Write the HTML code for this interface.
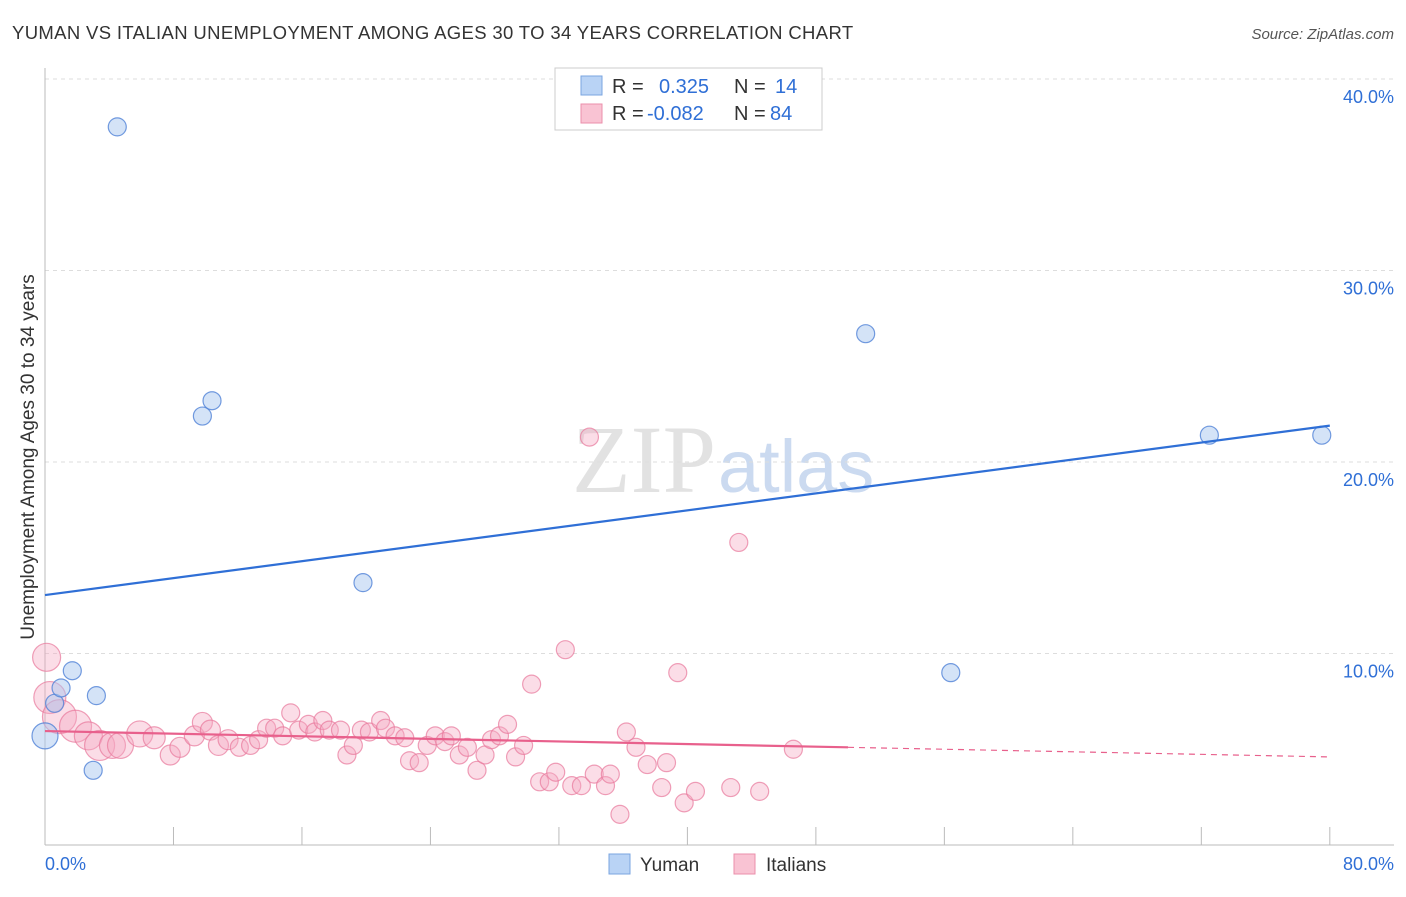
<!DOCTYPE html>
<html><head><meta charset="utf-8"><style>
body{margin:0;background:#fff;font-family:"Liberation Sans",sans-serif}
svg text{font-family:"Liberation Sans",sans-serif}
</style></head><body>
<svg id="chart" width="1406" height="892" xmlns="http://www.w3.org/2000/svg">
<text x="12" y="39" font-size="18.5" fill="#333" letter-spacing="0.35">YUMAN VS ITALIAN UNEMPLOYMENT AMONG AGES 30 TO 34 YEARS CORRELATION CHART</text>
<text x="1394" y="39" font-size="15" fill="#555" font-style="italic" text-anchor="end">Source: ZipAtlas.com</text>
<text x="716" y="492" font-size="96" fill="#e2e2e2" text-anchor="end" style="font-family:'Liberation Serif',serif">ZIP</text>
<text x="718" y="492" font-size="74" fill="#cbdaf0">atlas</text>
<g id="grid"></g>
<g id="axes"></g>
<g id="pts"></g>
<g id="lines"></g>
<text transform="translate(34,457) rotate(-90)" font-size="19" fill="#333" text-anchor="middle">Unemployment Among Ages 30 to 34 years</text>
<g>
<rect x="555" y="68" width="267" height="62" fill="#fff" stroke="#ccc"/>
<rect x="581" y="76" width="21" height="19" fill="#b9d3f5" stroke="#7aa5e0"/>
<rect x="581" y="104" width="21" height="19" fill="#f9c3d3" stroke="#eb8fab"/>
<text x="612" y="93" font-size="20" fill="#333">R =</text>
<text x="659" y="93" font-size="20" fill="#2f6fd6">0.325</text>
<text x="734" y="93" font-size="20" fill="#333">N =</text>
<text x="775" y="93" font-size="20" fill="#2f6fd6">14</text>
<text x="612" y="120" font-size="20" fill="#333">R =</text>
<text x="647" y="120" font-size="20" fill="#2f6fd6">-0.082</text>
<text x="734" y="120" font-size="20" fill="#333">N =</text>
<text x="770" y="120" font-size="20" fill="#2f6fd6">84</text>
</g>
<g>
<rect x="609" y="854" width="21" height="20" fill="#b9d3f5" stroke="#7aa5e0"/>
<text x="640" y="871" font-size="19" fill="#333">Yuman</text>
<rect x="734" y="854" width="21" height="20" fill="#f9c3d3" stroke="#eb8fab"/>
<text x="766" y="871" font-size="19" fill="#333">Italians</text>
</g>
</svg>
<script>
const yTicks=[10,20,30,40];
const yTickLabels=["10.0%","20.0%","30.0%","40.0%"];
const xTicks=[0,8,16,24,32,40,48,56,64,72,80];
const xEndLabels=["0.0%","80.0%"];
const yumanX=[0,0.6,1.0,1.7,3.2,3.0,4.5,9.8,10.4,19.8,51.1,56.4,72.5,79.5];
const yumanY=[5.7,7.4,8.2,9.1,7.8,3.9,37.5,22.4,23.2,13.7,26.7,9.0,21.4,21.4];
const yumanR=[13,9,9,9,9,9,9,9,9,9,9,9,9,9];
const italX=[0.1,0.3,0.9,1.9,2.7,3.4,4.2,4.7,5.9,6.8,7.8,8.4,9.3,9.8,10.3,10.8,11.4,12.1,12.8,13.3,13.8,14.3,14.8,15.3,15.8,16.4,16.8,17.3,17.7,18.4,18.8,19.2,19.7,20.2,20.9,21.2,21.8,22.4,22.7,23.3,23.8,24.3,24.9,25.3,25.8,26.3,26.9,27.4,27.8,28.3,28.8,29.3,29.8,30.3,30.8,31.4,31.8,32.4,32.8,33.4,34.2,34.9,35.2,35.8,36.2,36.8,37.5,38.4,38.7,39.4,39.8,40.5,42.7,43.2,44.5,46.6,33.9];
const italY=[9.8,7.7,6.7,6.2,5.7,5.2,5.2,5.2,5.8,5.6,4.7,5.1,5.7,6.4,6.0,5.2,5.5,5.1,5.2,5.5,6.1,6.1,5.7,6.9,6.0,6.3,5.9,6.5,6.0,6.0,4.7,5.2,6.0,5.9,6.5,6.1,5.7,5.6,4.4,4.3,5.2,5.7,5.4,5.7,4.7,5.1,3.9,4.7,5.5,5.7,6.3,4.6,5.2,8.4,3.3,3.3,3.8,10.2,3.1,3.1,3.7,3.1,3.7,1.6,5.9,5.1,4.2,3.0,4.3,9.0,2.2,2.8,3.0,15.8,2.8,5.0,21.3];
const italR=[14,16,17,16,14,15,13,13,13,11,10,10,10,10,10,10,10];
const yumanLine=[[0,13.05],[80,21.9]];
const italLine=[[0,5.95],[50,5.1],[80,4.6]];
const NS="http://www.w3.org/2000/svg";
const X=v=>45+v*16.06, Y=v=>845-v*19.15;
function mk(tag,attrs,parent){const e=document.createElementNS(NS,tag);for(const k in attrs)e.setAttribute(k,attrs[k]);parent.appendChild(e);return e;}
const grid=document.getElementById('grid'),axes=document.getElementById('axes'),pts=document.getElementById('pts'),lines=document.getElementById('lines');
yTicks.forEach((t,i)=>{const l=mk('line',{x1:45,x2:1394,y1:Y(t),y2:Y(t),stroke:'#ddd','stroke-dasharray':'4,4'},grid);


const tx=mk('text',{x:1394,y:Y(t)+24,'font-size':18,fill:'#2f6fd6','text-anchor':'end'},grid);tx.textContent=yTickLabels[i];

});
const ya=mk('line',{x1:45,x2:45,y1:68,y2:845,stroke:'#bbb'},axes);


const xa=mk('line',{x1:45,x2:1394,y1:845,y2:845,stroke:'#bbb'},axes);


xTicks.forEach(t=>{const l=mk('line',{x1:X(t),x2:X(t),y1:827,y2:845,stroke:'#bbb'},axes);

});
const xl0=mk('text',{x:45,y:870,'font-size':18,fill:'#2f6fd6'},axes);xl0.textContent=xEndLabels[0];


const xl1=mk('text',{x:1394,y:870,'font-size':18,fill:'#2f6fd6','text-anchor':'end'},axes);xl1.textContent=xEndLabels[1];


italX.forEach((v,i)=>{const c=mk('circle',{cx:X(v),cy:Y(italY[i]),r:italR[i]||9,fill:'rgba(246,170,196,0.4)',stroke:'rgba(232,120,155,0.7)','stroke-width':1.2},pts);

});
yumanX.forEach((v,i)=>{const c=mk('circle',{cx:X(v),cy:Y(yumanY[i]),r:yumanR[i],fill:'rgba(170,200,240,0.5)',stroke:'rgba(80,130,215,0.8)','stroke-width':1.2},pts);

});
const bl=mk('line',{x1:X(yumanLine[0][0]),y1:Y(yumanLine[0][1]),x2:X(yumanLine[1][0]),y2:Y(yumanLine[1][1]),stroke:'#2f6fd6','stroke-width':2.2},lines);


const pl=mk('line',{x1:X(italLine[0][0]),y1:Y(italLine[0][1]),x2:X(italLine[1][0]),y2:Y(italLine[1][1]),stroke:'#e8608c','stroke-width':2.2},lines);


const pd=mk('line',{x1:X(italLine[1][0]),y1:Y(italLine[1][1]),x2:X(italLine[2][0]),y2:Y(italLine[2][1]),stroke:'#e8608c','stroke-width':1.2,'stroke-dasharray':'6,5'},lines);


</script>
</body></html>
